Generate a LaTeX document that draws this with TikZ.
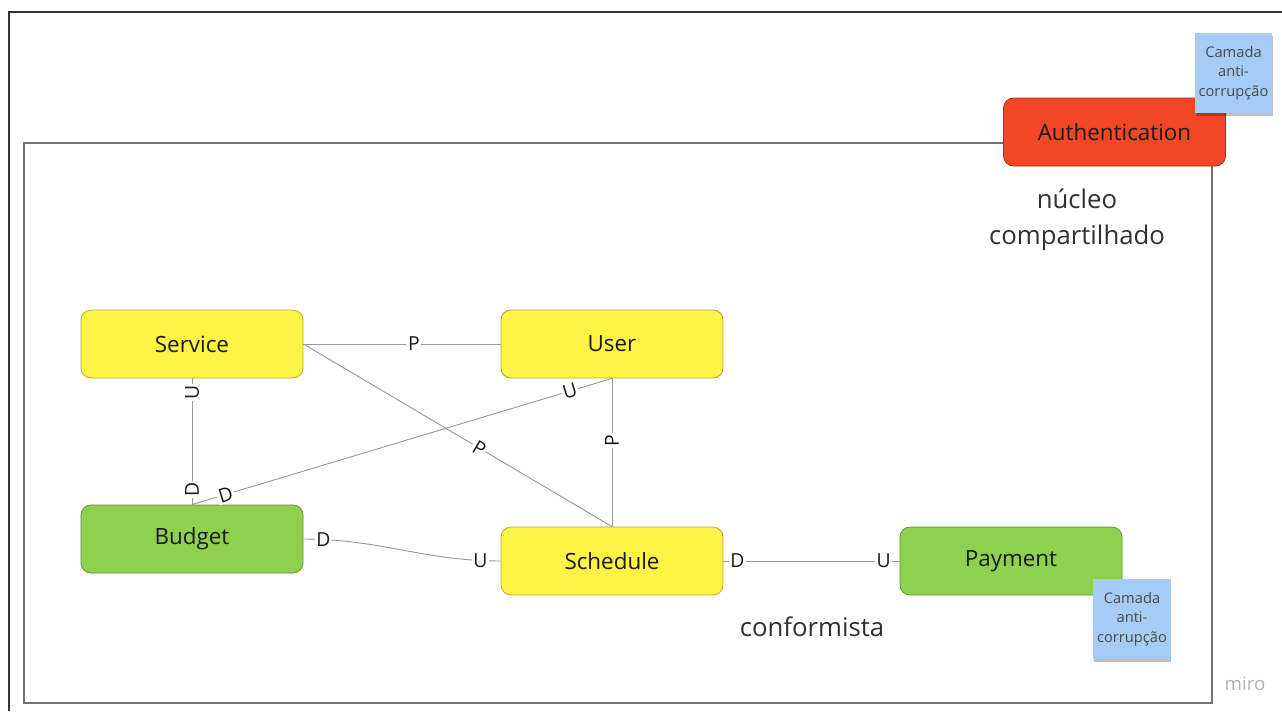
\documentclass[tikz,border=0pt]{standalone}
\usepackage{fontspec}
\setmainfont{Open Sans}
\usetikzlibrary{shadows}
\definecolor{yel}{HTML}{FEF445}
\definecolor{grn}{HTML}{8FD14F}
\definecolor{red}{HTML}{F24726}
\definecolor{sticky}{HTML}{A6CCF5}
\definecolor{txt}{HTML}{1A1A1A}
\definecolor{ln}{HTML}{9A9A9A}
\tikzset{
  box/.style={rounded corners=7.5pt, minimum width=166.5pt, minimum height=51pt, draw=#1!70!black, line width=0.6pt, text=txt, font=\fontsize{16.8}{20}\selectfont},
  ybox/.style={box=yel, fill=yel},
  gbox/.style={box=grn, fill=grn},
  rbox/.style={box=red, fill=red},
  stickynote/.style={fill=sticky, minimum width=58pt, minimum height=60pt, align=center, text=txt!80, font=\fontsize{11}{14.5}\selectfont, inner sep=0pt,
    drop shadow={shadow xshift=0.5pt, shadow yshift=-2.5pt, opacity=0.25, fill=black}},
  conn/.style={draw=ln, line width=0.7pt},
  lab/.style={fill=white, inner sep=1.2pt, text=txt, font=\fontsize{14.5}{17}\selectfont},
  note/.style={text=txt!90, font=\fontsize{19.3}{27}\selectfont, align=center}
}
\begin{document}
\begin{tikzpicture}[x=0.75pt,y=-0.75pt]
\useasboundingbox (0,0) rectangle (1282,711);
\fill[white] (0,0) rectangle (1282,711);
% outer frame
\draw[black!80, line width=1pt] (9,711) -- (9,12) -- (1282,12);
% inner frame
\draw[black!55, line width=1.2pt] (24,143) rectangle (1212,703);

% nodes
\node[ybox] (service) at (192,344) {Service};
\node[ybox] (user) at (612,344) {User};
\node[gbox] (budget) at (192,539) {Budget};
\node[ybox] (schedule) at (612,561) {Schedule};
\node[gbox] (payment) at (1011,561) {Payment};
\node[rbox] (auth) at (1114.5,132) {Authentication};

% connectors
\draw[conn] (service.east) -- node[lab, pos=0.56] {P} (user.west);
\draw[conn] (service.east) -- node[lab, pos=0.57, sloped] {P} (schedule.north);
\draw[conn] (service.south) -- node[lab, pos=0.11, rotate=90] {U} node[lab, pos=0.88, rotate=90] {D} (budget.north);
\draw[conn] (budget.north) -- node[lab, pos=0.08, sloped] {D} node[lab, pos=0.9, sloped] {U} (user.south);
\draw[conn] (budget.east) to[out=0,in=180] node[lab, pos=0.09] {D} node[lab, pos=0.91] {U} (schedule.west);
\draw[conn] (user.south) -- node[lab, pos=0.42, rotate=90] {P} (schedule.north);
\draw[conn] (schedule.east) -- node[lab, pos=0.08] {D} node[lab, pos=0.91] {U} (payment.west);

% sticky notes
\node[stickynote] (st1) at (1233.5,73) {Camada\\anti-\\corrupção};
\node[stickynote] (st2) at (1132,619) {Camada\\anti-\\corrupção};

% texts
\node[note] (nucleo) at (1077,220) {núcleo\\compartilhado};
\node[note] (conf) at (812,627) {conformista};
\node[text=black!30, font=\fontsize{14}{16}\selectfont] (miro) at (1245,684) {miro};
\end{tikzpicture}
\end{document}
